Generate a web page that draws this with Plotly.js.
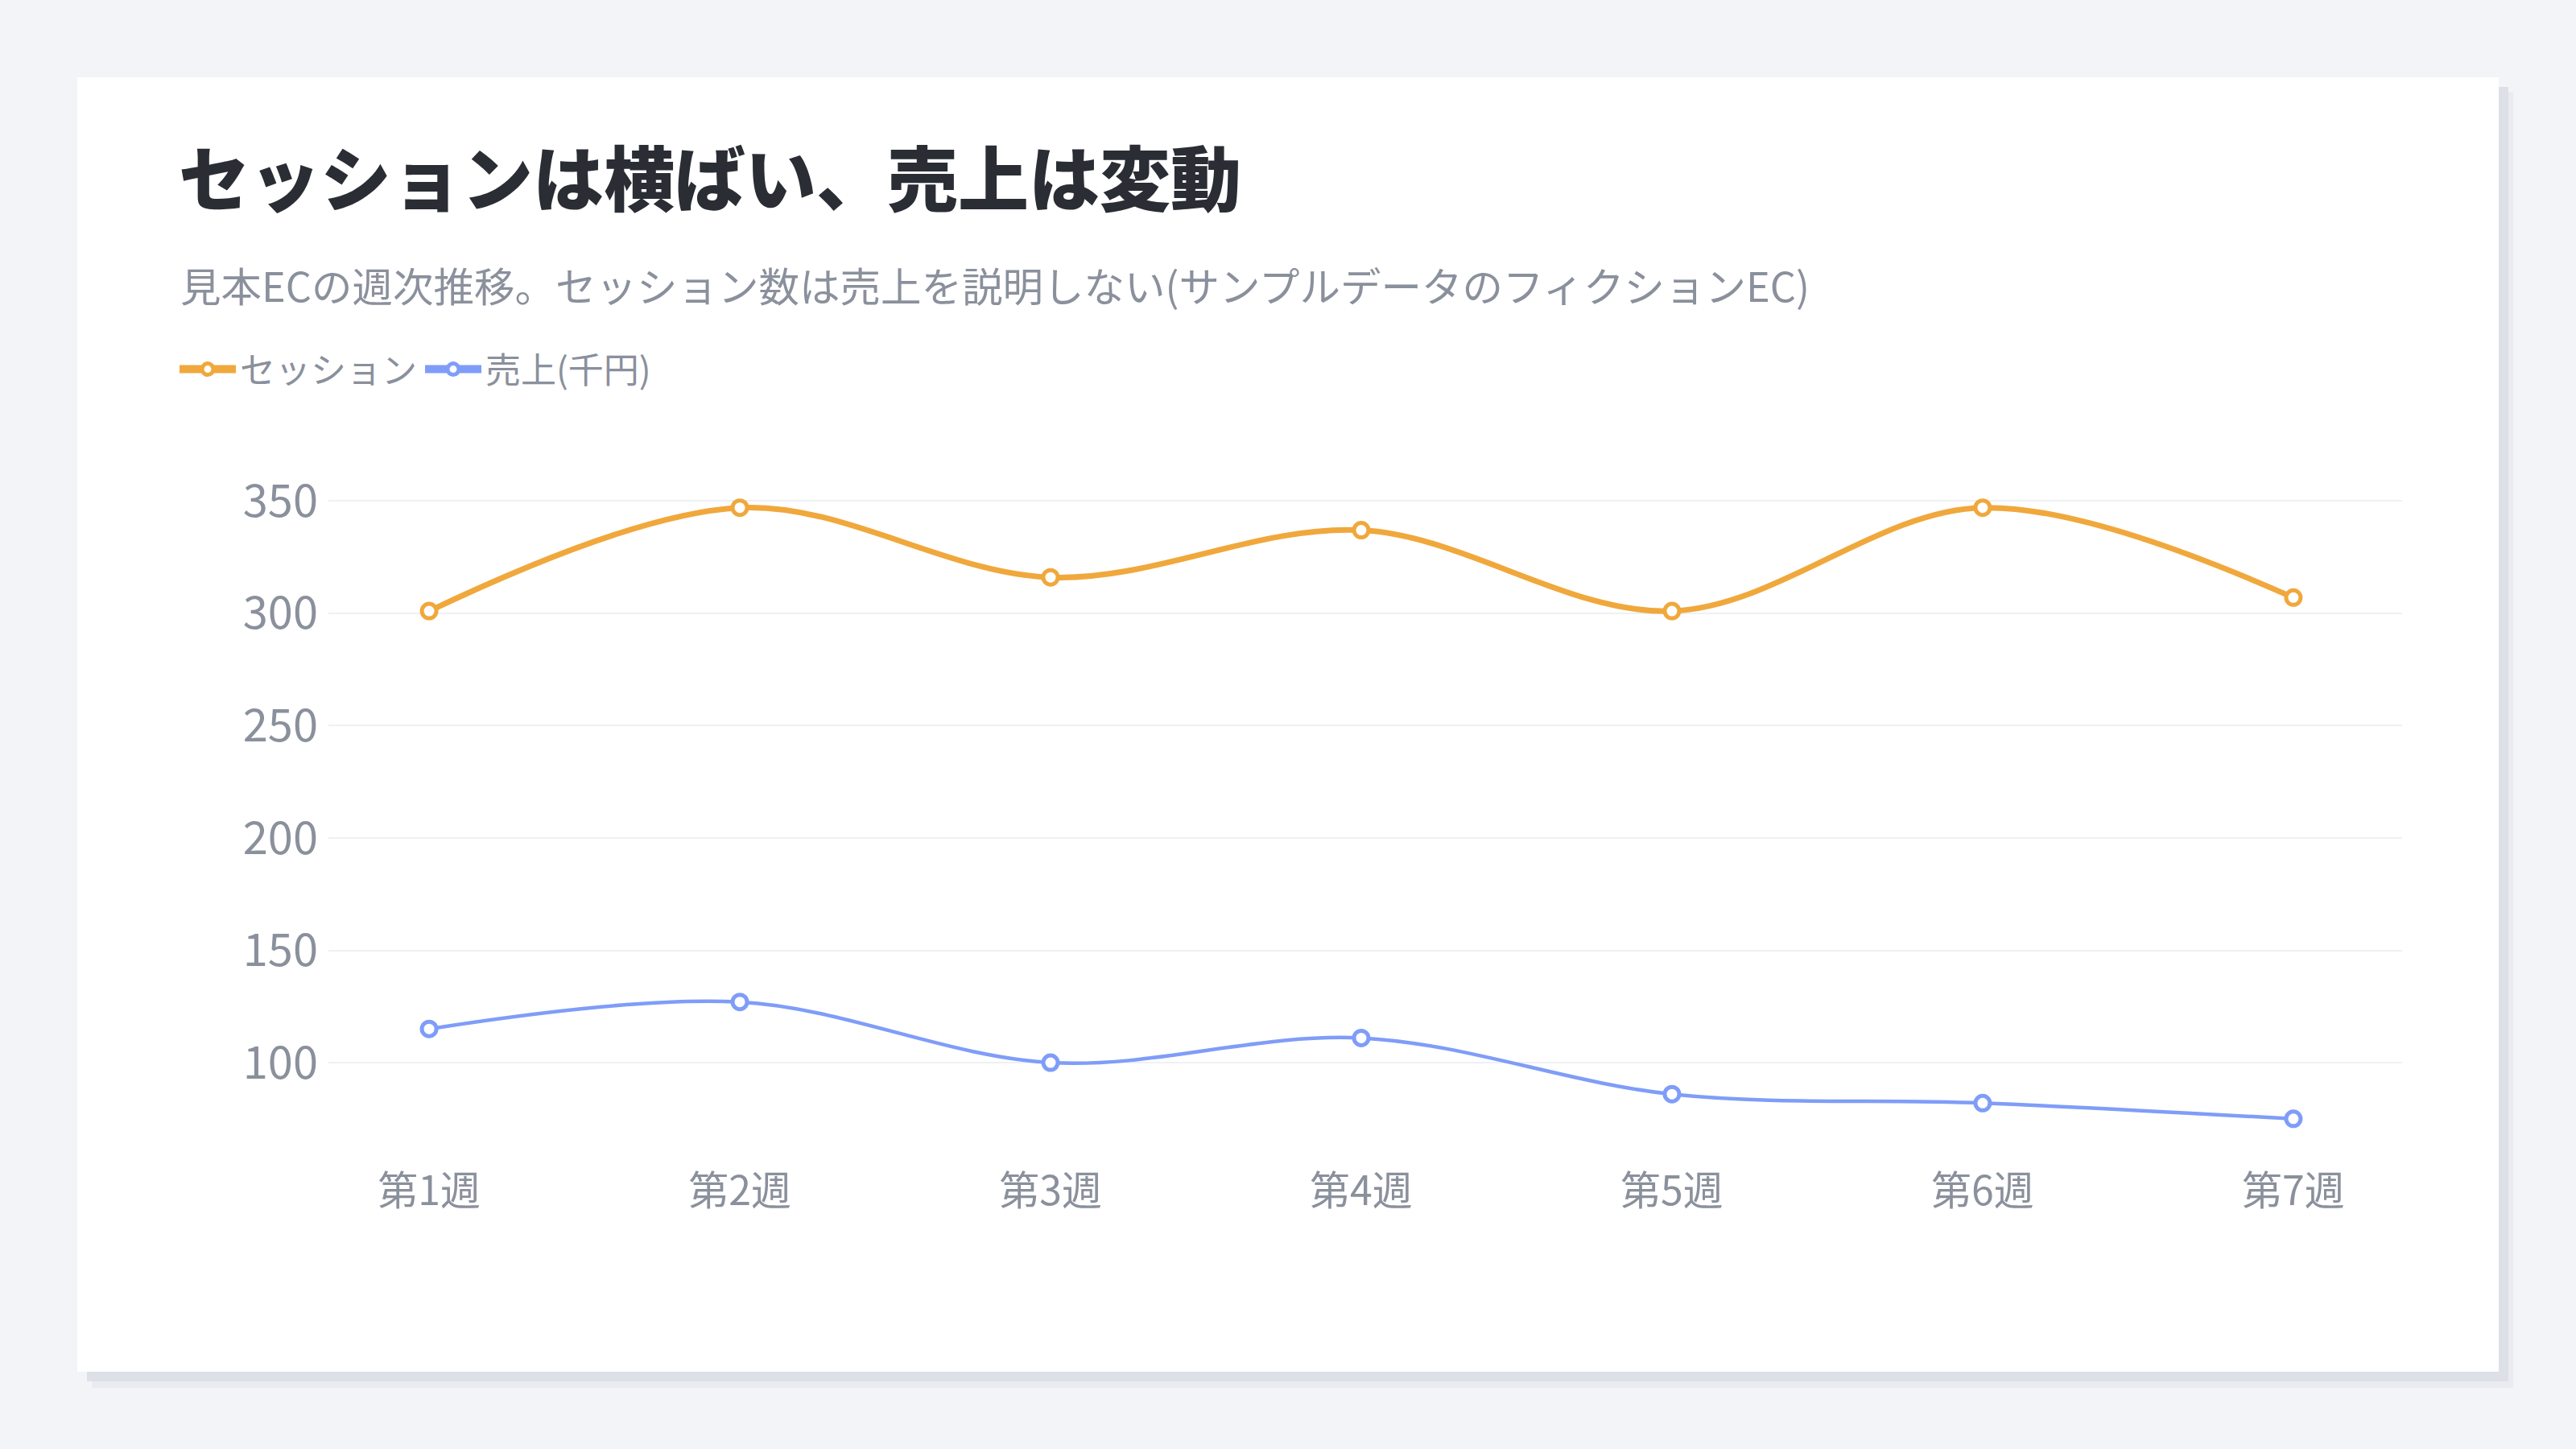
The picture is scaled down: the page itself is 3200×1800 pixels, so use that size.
<!DOCTYPE html>
<html>
<head>
<meta charset="utf-8">
<script src="https://cdn.plot.ly/plotly-3.0.1.min.js"></script>
<style>
  html, body { margin: 0; padding: 0; background: #f3f4f8; }
  #chart { width: 3200px; height: 1800px; }
</style>
</head>
<body>
<div id="chart"></div>
<script>
// ---- data ----
const weeks = ["第1週", "第2週", "第3週", "第4週", "第5週", "第6週", "第7週"];
const sessions = [301, 347, 316, 337, 301, 347, 307];
const sales = [115, 127, 100, 111, 86, 82, 75];
const seriesNames = ["セッション", "売上(千円)"];
const titleText = "セッションは横ばい、売上は変動";
const subtitleText = "見本ECの週次推移。セッション数は売上を説明しない(サンプルデータのフィクションEC)";
const yTicks = [100, 150, 200, 250, 300, 350];

// ---- layout geometry ----
const W = 3200, H = 1800;
const M = { l: 408, r: 216, t: 600, b: 380 };
const plotW = W - M.l - M.r, plotH = H - M.t - M.b;
const px = x => (x - M.l) / plotW;
const py = y => (H - M.b - y) / plotH;

const FONT = '"Noto Sans CJK JP", "Noto Sans", sans-serif';
const GRAY = '#8a909c';
const ORANGE = '#f0a83c';
const BLUE = '#7f9df8';

const traces = [
  {
    type: 'scatter', mode: 'lines+markers', name: seriesNames[0],
    x: weeks, y: sessions, showlegend: false,
    line: { color: ORANGE, width: 7, shape: 'spline', smoothing: 1 },
    marker: { symbol: 'circle', size: 18, color: '#ffffff', line: { color: ORANGE, width: 5 } },
    cliponaxis: false
  },
  {
    type: 'scatter', mode: 'lines+markers', name: seriesNames[1],
    x: weeks, y: sales, showlegend: false,
    line: { color: BLUE, width: 4.5, shape: 'spline', smoothing: 1 },
    marker: { symbol: 'circle', size: 18, color: '#ffffff', line: { color: BLUE, width: 5 } },
    cliponaxis: false
  },
  // legend entries (styled like the reference's legend keys)
  {
    type: 'scatter', mode: 'lines+markers', name: seriesNames[0],
    x: [null], y: [null], showlegend: true,
    line: { color: ORANGE, width: 11 },
    marker: { symbol: 'circle', size: 14, color: '#ffffff', line: { color: ORANGE, width: 5 } }
  },
  {
    type: 'scatter', mode: 'lines+markers', name: seriesNames[1],
    x: [null], y: [null], showlegend: true,
    line: { color: BLUE, width: 11 },
    marker: { symbol: 'circle', size: 14, color: '#ffffff', line: { color: BLUE, width: 5 } }
  }
];

const layout = {
  width: W, height: H,
  paper_bgcolor: '#f3f4f8',
  plot_bgcolor: 'rgba(0,0,0,0)',
  margin: M,
  font: { family: FONT, color: GRAY },
  showlegend: true,
  title: {
    text: titleText,
    font: { family: FONT, size: 88, color: '#2a2d34', weight: 900 },
    xref: 'container', x: 222 / W, xanchor: 'left',
    yref: 'container', y: 1 - 224 / H, yanchor: 'middle'
  },
  legend: {
    orientation: 'h',
    xref: 'container', x: 218 / W, xanchor: 'left',
    yref: 'container', y: 1 - 459 / H, yanchor: 'middle',
    font: { family: FONT, size: 44, color: GRAY },
    bgcolor: 'rgba(0,0,0,0)',
    itemwidth: 70,
    traceorder: 'normal'
  },
  xaxis: {
    type: 'category',
    range: [-0.324, 6.35],
    showgrid: false, zeroline: false, showline: false,
    ticks: '',
    tickfont: { family: FONT, size: 50, color: GRAY },
    ticklabelstandoff: 26,
    fixedrange: true
  },
  yaxis: {
    range: [64.2, 358],
    tickvals: yTicks,
    showgrid: true, gridcolor: '#eef0f4', gridwidth: 2,
    zeroline: false, showline: false,
    ticks: '',
    tickfont: { family: FONT, size: 56, color: GRAY },
    ticklabelstandoff: 12,
    fixedrange: true
  },
  annotations: [
    {
      text: subtitleText, showarrow: false,
      xref: 'paper', x: px(222), xanchor: 'left',
      yref: 'paper', y: py(353), yanchor: 'middle',
      font: { family: FONT, size: 50.5, color: GRAY }
    }
  ],
  shapes: [
    { type: 'rect', layer: 'below', xref: 'paper', yref: 'paper',
      x0: px(114), x1: px(3122), y0: py(114), y1: py(1724),
      fillcolor: '#e9ebf0', line: { width: 0 } },
    { type: 'rect', layer: 'below', xref: 'paper', yref: 'paper',
      x0: px(108), x1: px(3116), y0: py(108), y1: py(1716),
      fillcolor: '#dde0e7', line: { width: 0 } },
    { type: 'rect', layer: 'below', xref: 'paper', yref: 'paper',
      x0: px(96), x1: px(3104), y0: py(96), y1: py(1704),
      fillcolor: '#ffffff', line: { width: 0 } }
  ]
};

Plotly.newPlot('chart', traces, layout, { displayModeBar: false, staticPlot: true });
</script>
</body>
</html>
